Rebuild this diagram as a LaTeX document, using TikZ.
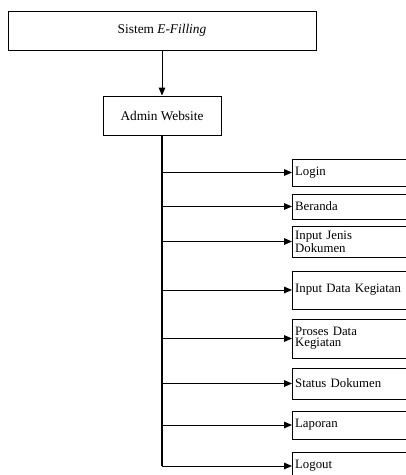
\documentclass[tikz,border=0pt]{standalone}
\usepackage{fontspec}
\setmainfont{Liberation Serif}
\usetikzlibrary{arrows.meta}
\tikzset{
  box/.style = {draw, line width=0.7pt, minimum height=#1, inner sep=2pt},
  menu/.style = {draw, line width=0.7pt, anchor=west, align=left, text width=99pt,
                 inner xsep=2pt, minimum height=#1, font=\fontsize{9.6}{8.5}\selectfont},
  arr/.style = {line width=0.7pt, -{Triangle[length=6pt,width=5pt]}}
}
\begin{document}
\begin{tikzpicture}[x=0.75pt,y=-0.75pt]
\clip (0,0) rectangle (406,475);
\node [box=29.25pt, minimum width=231pt] (sistem) at (162,30.5) {Sistem \textit{E-Filling}};
\node [box=29.25pt, minimum width=88.5pt] (admin) at (162,115.5) {Admin Website};
\draw [arr] (sistem.south) -- (admin.north);
\node [menu=20.25pt] (login) at (292,172.5) {Login};
\node [menu=18.75pt] (beranda) at (292,206.5) {Beranda};
\node [menu=23.25pt] (jenis) at (292,241.5) {Input Jenis\\Dokumen};
\node [menu=28.5pt] (kegiatan) at (292,290) {Input Data Kegiatan};
\node [menu=29.25pt] (proses) at (292,338.5) {Proses Data\\Kegiatan};
\node [menu=23.25pt] (status) at (292,383.5) {Status Dokumen};
\node [menu=21pt] (laporan) at (292,425) {Laporan};
\node [menu=21pt] (logout) at (292,466) {Logout};
\draw [line width=1.5pt] (admin.south) -- (admin.south |- logout.west);
\foreach \m in {login,beranda,jenis,kegiatan,proses,status,laporan,logout}
  \draw [arr] (admin.south |- \m.west) -- (\m.west);
\end{tikzpicture}
\end{document}
